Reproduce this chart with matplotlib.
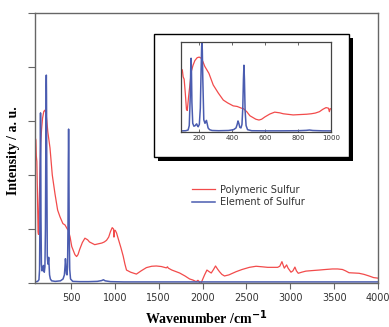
import matplotlib
matplotlib.use("Agg")
import matplotlib.pyplot as plt
from matplotlib.patches import Rectangle
import numpy as np

# Polymeric sulfur (red)
red_wn = [90, 100, 105, 111, 118, 125, 130, 138, 145, 155, 165, 176, 190, 202, 215, 225, 236, 261,
          287, 318, 348, 375, 408, 432, 458, 470, 490, 509, 527, 545, 564, 580, 600, 630, 659,
          690, 711, 735, 771, 810, 852, 880, 905, 930, 950, 970, 985, 990, 995, 1005, 1020, 1038,
          1070, 1095, 1115, 1133, 1180, 1227, 1246, 1300, 1360, 1420, 1473, 1530, 1587, 1600, 1610,
          1650, 1739, 1800, 1852, 1890, 1927, 1947, 1960, 1973, 1990, 2023, 2050, 2075, 2099, 2125,
          2148, 2170, 2193, 2220, 2250, 2300, 2383, 2450, 2534, 2610, 2680, 2742, 2800, 2856, 2880,
          2905, 2920, 2932, 2958, 2975, 3008, 3030, 3053, 3070, 3091, 3130, 3178, 3250, 3330, 3400,
          3481, 3540, 3595, 3630, 3670, 3730, 3784, 3840, 3898, 3950, 4000]
red_val = [0.54, 0.53, 0.47, 0.45, 0.33, 0.19, 0.18, 0.30, 0.39, 0.52, 0.57, 0.61, 0.635, 0.64, 0.63,
           0.60, 0.56, 0.50, 0.40, 0.33, 0.27, 0.245, 0.22, 0.215, 0.2, 0.196, 0.17, 0.135, 0.12,
           0.105, 0.098, 0.105, 0.125, 0.15, 0.166, 0.16, 0.152, 0.148, 0.142, 0.145, 0.148, 0.152,
           0.158, 0.17, 0.19, 0.205, 0.2, 0.17, 0.195, 0.195, 0.185, 0.165, 0.13, 0.1, 0.07, 0.048,
           0.04, 0.035, 0.033, 0.045, 0.057, 0.062, 0.063, 0.061, 0.056, 0.06, 0.055, 0.048, 0.037,
           0.026, 0.015, 0.011, 0.005, 0.01, 0.006, -0.006, 0.005, 0.03, 0.048, 0.042, 0.037, 0.05,
           0.063, 0.052, 0.042, 0.032, 0.026, 0.03, 0.042, 0.05, 0.058, 0.062, 0.06, 0.058, 0.058,
           0.058, 0.062, 0.079, 0.065, 0.055, 0.067, 0.055, 0.04, 0.045, 0.059, 0.045, 0.036, 0.04,
           0.044, 0.046, 0.048, 0.05, 0.052, 0.052, 0.05, 0.045, 0.038, 0.037, 0.036, 0.032, 0.026,
           0.02, 0.018]

# Element of sulfur (blue)
blue_wn = [90, 120, 135, 142, 148, 151, 153, 155, 158, 163, 170, 178, 183, 187, 191, 196, 203, 209,
           214, 217, 219, 221, 224, 230, 237, 242, 246, 250, 256, 265, 280, 320, 380, 410, 425, 432,
           437, 442, 448, 455, 461, 466, 470, 473, 476, 480, 486, 495, 520, 600, 700, 800, 850, 870,
           890, 950, 1100, 1500, 2000, 2500, 3000, 3500, 4000]
blue_val = [0.004, 0.006, 0.012, 0.05, 0.3, 0.55, 0.63, 0.55, 0.25, 0.07, 0.045, 0.05, 0.06, 0.065,
            0.05, 0.04, 0.06, 0.2, 0.55, 0.73, 0.77, 0.7, 0.45, 0.1, 0.07, 0.08, 0.095, 0.07, 0.03,
            0.015, 0.008, 0.006, 0.008, 0.015, 0.03, 0.06, 0.09, 0.07, 0.035, 0.03, 0.06, 0.2, 0.45,
            0.57, 0.45, 0.18, 0.05, 0.015, 0.006, 0.005, 0.005, 0.006, 0.009, 0.012, 0.008, 0.005,
            0.004, 0.004, 0.004, 0.004, 0.004, 0.004, 0.004]

x_ticks = [500, 1000, 1500, 2000, 2500, 3000, 3500, 4000]
inset_ticks = [200, 400, 600, 800, 1000]

RED = "#f24b4b"
BLUE = "#4a5cb0"
SPINE = "#666666"
TXT = "#333333"

W, H = 389, 327
fig = plt.figure(figsize=(W / 100, H / 100), dpi=100)

def rect(l, t, r, b):
    return [l / W, 1 - b / H, (r - l) / W, (b - t) / H]

ax = fig.add_axes(rect(35, 13, 378, 283))
ax.plot(red_wn, red_val, color=RED, lw=0.9, label="Polymeric Sulfur")
ax.plot(blue_wn, blue_val, color=BLUE, lw=1.1, label="Element of Sulfur")
ax.set_xlim(90, 4000)
ax.set_ylim(0, 1.0)
ax.set_xticks(x_ticks)
ax.set_yticks([0, 0.2, 0.4, 0.6, 0.8, 1.0])
ax.set_yticklabels([])
ax.tick_params(axis="x", direction="out", length=4, width=0.8, color=SPINE,
               labelsize=7, labelcolor=TXT, pad=3)
ax.tick_params(axis="y", direction="out", length=5, width=0.8, color=SPINE)
for s in ax.spines.values():
    s.set_color(SPINE)
    s.set_linewidth(1.0)
ax.set_xlabel("Wavenumber /cm$^{\\mathbf{-1}}$", family="Liberation Serif", weight="bold",
              fontsize=10, labelpad=4)
ax.set_ylabel("Intensity / a. u.", family="Liberation Serif", weight="bold", fontsize=10,
              labelpad=1)
ax.yaxis.set_label_coords(-0.044, 0.49)
leg = ax.legend(loc="upper left", bbox_to_anchor=((188 - 35) / 343, 1 - (181 - 13) / 270),
                frameon=False, fontsize=7, handlelength=2.4, handletextpad=0.5,
                labelspacing=0.25, borderaxespad=0)
for t in leg.get_texts():
    t.set_color(TXT)

# Inset frame with shadow
fig.patches.append(Rectangle((158 / W, 1 - 161 / H), (353 - 158) / W, (161 - 38) / H,
                             transform=fig.transFigure, facecolor="black", edgecolor="none",
                             zorder=3))
fig.patches.append(Rectangle((154 / W, 1 - 157 / H), (349 - 154) / W, (157 - 34) / H,
                             transform=fig.transFigure, facecolor="white", edgecolor="black",
                             lw=1.0, zorder=4))

axi = fig.add_axes(rect(181, 42, 331, 132), zorder=5)
axi.plot(red_wn, red_val, color=RED, lw=0.9)
axi.plot(blue_wn, blue_val, color=BLUE, lw=1.1)
axi.set_xlim(92, 1000)
axi.set_ylim(-0.005, 0.77)
axi.set_xticks(inset_ticks)
axi.set_yticks([])
axi.tick_params(axis="x", direction="in", length=2.5, width=0.7, color=SPINE, top=True,
                labelsize=5, labelcolor=TXT, pad=2)
for s in axi.spines.values():
    s.set_color("#444444")
    s.set_linewidth(0.9)

fig.savefig("out.png", dpi=100)
